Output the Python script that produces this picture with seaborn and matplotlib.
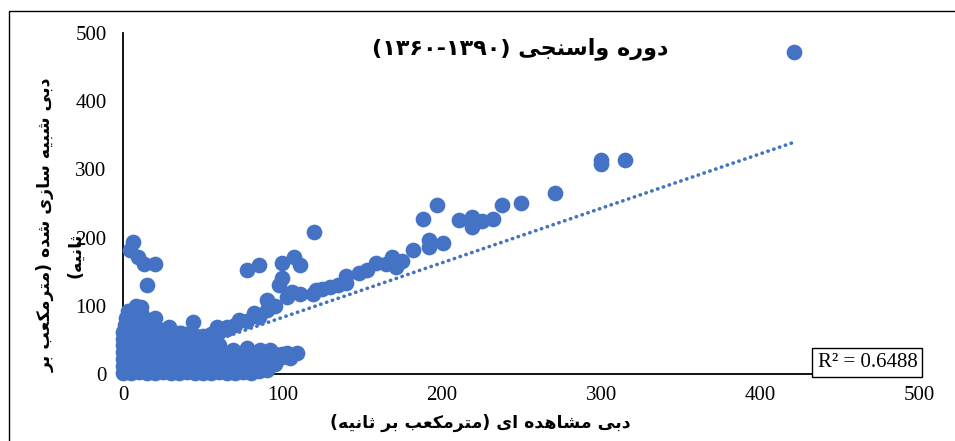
import numpy as np
import pandas as pd
import matplotlib
matplotlib.use("Agg")
import matplotlib.pyplot as plt
from matplotlib.patches import Rectangle
import seaborn as sns

### Data
# observed flow (x) / simulated flow (y), m3/s
obs_flow = [
    # dense cluster near the origin, row by row
    0, 5, 10, 15, 20, 25, 30, 35, 40, 45, 50, 55, 60, 65, 70, 75, 80, 85, 90,
    0, 5, 10, 15, 20, 25, 30, 35, 40, 45, 50, 55, 60, 65, 70, 75, 80, 85, 90, 95,
    0, 5, 10, 15, 20, 25, 30, 35, 40, 45, 50, 55, 60, 65, 70, 75, 80, 85, 90, 95, 100, 105,
    0, 5, 10, 15, 20, 25, 30, 35, 40, 45, 50, 55,
    0, 5, 10, 15, 20, 25, 30, 35, 40, 45, 50, 55, 60,
    0, 5, 10, 15, 20, 25, 30, 35, 40, 45, 50,
    0, 5, 10, 15, 20, 25, 30, 35, 40, 46,
    1, 5, 10, 15, 20, 25,
    2, 6, 10, 15,
    3, 8, 12,
    # left spikes
    6, 4, 9, 13, 20, 15, 11, 8, 20, 29, 36, 44, 5, 3,
    # lower band
    109, 103, 92, 86, 78, 69, 61, 90, 80, 73, 95, 82, 75, 66, 58, 85, 70,
    60, 55, 65, 100, 88,
    # upper band
    45, 50, 55, 60, 65, 59, 65, 70, 73, 78, 82, 85, 90, 90, 95, 98, 100, 100,
    103, 107, 111, 111, 106, 119, 120, 121, 125, 130, 135, 140, 140, 148,
    153, 159, 165, 169, 171, 175, 182, 188, 192, 192, 197, 201, 211, 219,
    219, 225, 232, 238, 250, 271, 300, 300, 315, 421, 78, 85,
]
sim_flow = [
    2, 1, 3, 2, 1, 3, 2, 1, 3, 2, 1, 2, 3, 2, 1, 3, 2, 4, 6,
    12, 11, 13, 12, 11, 13, 12, 11, 13, 12, 11, 13, 12, 11, 13, 12, 11, 13, 12, 14,
    22, 21, 23, 22, 21, 23, 22, 21, 23, 22, 21, 23, 22, 21, 23, 22, 21, 23, 22, 24, 25, 24,
    32, 31, 33, 32, 31, 33, 32, 31, 33, 32, 31, 33,
    42, 41, 43, 42, 41, 43, 42, 41, 43, 42, 41, 43, 42,
    52, 51, 53, 52, 51, 53, 52, 51, 53, 52, 50,
    62, 61, 63, 62, 61, 63, 62, 60, 58, 56,
    72, 71, 73, 70, 68, 64,
    82, 81, 80, 76,
    92, 90, 86,
    194, 182, 172, 162, 162, 130, 98, 100, 82, 69, 60, 76, 92, 85,
    31, 31, 35, 35, 38, 35, 32, 20, 18, 13, 30, 28, 30, 25, 22, 10, 8,
    5, 15, 18, 30, 25,
    50, 55, 58, 62, 66, 69, 69, 72, 79, 77, 89, 84, 94, 108, 100, 130, 141, 163,
    113, 172, 160, 118, 120, 118, 208, 123, 125, 128, 130, 133, 143, 148,
    153, 163, 162, 172, 157, 165, 182, 227, 196, 186, 248, 192, 226, 230,
    216, 225, 227, 248, 251, 265, 314, 308, 314, 472, 152, 160,
]

# linear trendline (Excel) and its R2
trend_slope = 0.80
trend_intercept = 3.0
trend_xmax = 421
r_squared = 0.6488

title_text = "دوره واسنجی (۱۳۹۰-۱۳۶۰)"
xlabel_text = "دبی مشاهده ای (مترمکعب بر ثانیه)"
ylabel_line1 = "دبی شبیه سازی شده (مترمکعب بر"
ylabel_line2 = "ثانیه)"


### Minimal Persian shaping (matplotlib has no complex text layout)
# letter: (isolated, final, initial, medial)
FORMS = {
    "ا": ("\uFE8D", "\uFE8E"), "د": ("\uFEA9", "\uFEAA"), "ر": ("\uFEAD", "\uFEAE"),
    "ز": ("\uFEAF", "\uFEB0"), "و": ("\uFEED", "\uFEEE"),
    "ب": ("\uFE8F", "\uFE90", "\uFE91", "\uFE92"), "ت": ("\uFE95", "\uFE96", "\uFE97", "\uFE98"),
    "ث": ("\uFE99", "\uFE9A", "\uFE9B", "\uFE9C"), "ج": ("\uFE9D", "\uFE9E", "\uFE9F", "\uFEA0"),
    "س": ("\uFEB1", "\uFEB2", "\uFEB3", "\uFEB4"), "ش": ("\uFEB5", "\uFEB6", "\uFEB7", "\uFEB8"),
    "ع": ("\uFEC9", "\uFECA", "\uFECB", "\uFECC"), "م": ("\uFEE1", "\uFEE2", "\uFEE3", "\uFEE4"),
    "ن": ("\uFEE5", "\uFEE6", "\uFEE7", "\uFEE8"), "ه": ("\uFEE9", "\uFEEA", "\uFEEB", "\uFEEC"),
    "ک": ("\uFB8E", "\uFB8F", "\uFB90", "\uFB91"), "ی": ("\uFBFC", "\uFBFD", "\uFBFE", "\uFBFF"),
}
MIRROR = {"(": ")", ")": "("}


def fa(text):
    shaped = []
    for i, ch in enumerate(text):
        if ch not in FORMS:
            shaped.append(ch)
            continue
        f = FORMS[ch]
        prev_j = i > 0 and text[i - 1] in FORMS and len(FORMS[text[i - 1]]) == 4
        next_j = len(f) == 4 and i + 1 < len(text) and text[i + 1] in FORMS
        if prev_j and next_j:
            shaped.append(f[3])
        elif prev_j:
            shaped.append(f[1])
        elif next_j:
            shaped.append(f[2])
        else:
            shaped.append(f[0])
    # visual order: reverse, keep digit runs left-to-right
    tokens = []
    for ch in shaped:
        if ch.isdigit() and tokens and tokens[-1][-1].isdigit():
            tokens[-1] += ch
        else:
            tokens.append(ch)
    return "".join(MIRROR.get(t, t) for t in reversed(tokens))


df = pd.DataFrame({"obs": obs_flow, "sim": sim_flow})
trend = pd.DataFrame({"obs": [0, trend_xmax]})
trend["sim"] = trend_intercept + trend_slope * trend["obs"]

sns.set_style("white")
plt.rcParams["font.family"] = ["Liberation Serif", "DejaVu Sans"]
for key in ["text.color", "axes.labelcolor", "xtick.color", "ytick.color"]:
    plt.rcParams[key] = "black"
fa_font = ["DejaVu Sans"]
blue = "#4472C4"

fig = plt.figure(figsize=(9.55, 4.41), dpi=100)
ax = fig.add_axes([0.129, 0.152, 0.834, 0.773])

sns.scatterplot(data=df, x="obs", y="sim", ax=ax, color=blue, s=128,
                linewidth=0, alpha=1, clip_on=False, zorder=3)
sns.lineplot(data=trend, x="obs", y="sim", ax=ax, color=blue, lw=2.6,
             dashes=False, zorder=2)
ax.lines[-1].set_linestyle((0, (0.1, 1.6)))
ax.lines[-1].set_dash_capstyle("round")

ax.set_xlim(0, 500)
ax.set_ylim(0, 500)
ax.set_xticks(range(0, 501, 100))
ax.set_yticks(range(0, 501, 100))
sns.despine(ax=ax)
for sp in ["left", "bottom"]:
    ax.spines[sp].set_color("black")
    ax.spines[sp].set_linewidth(1.3)
ax.tick_params(axis="y", direction="out", length=6, width=1.3, labelsize=15, pad=6)
ax.tick_params(axis="x", direction="in", length=6, width=1.3, labelsize=15, pad=9)
ax.set_xlabel("")
ax.set_ylabel("")

ax.text(0.997, 0.006, f"R² = {r_squared:.4f}", transform=ax.transAxes,
        ha="right", va="bottom", fontsize=15, zorder=5,
        bbox=dict(boxstyle="square,pad=0.25", fc="white", ec="black", lw=1))

fig.text(0.545, 0.89, fa(title_text), family=fa_font, fontsize=16,
         fontweight="bold", ha="center", va="center")
fig.text(0.503, 0.04, fa(xlabel_text), family=fa_font, fontsize=12.5,
         fontweight="bold", ha="center", va="center")
fig.text(0.048, 0.49, fa(ylabel_line1), family=fa_font, fontsize=12.5,
         fontweight="bold", ha="center", va="center", rotation=90)
fig.text(0.079, 0.42, fa(ylabel_line2), family=fa_font, fontsize=12.5,
         fontweight="bold", ha="center", va="center", rotation=90)

fig.add_artist(Rectangle((0.0094, -0.1), 1.2, 1.075, transform=fig.transFigure,
                         fill=False, ec="black", lw=1, clip_on=False))

fig.savefig("out.png", dpi=100)
